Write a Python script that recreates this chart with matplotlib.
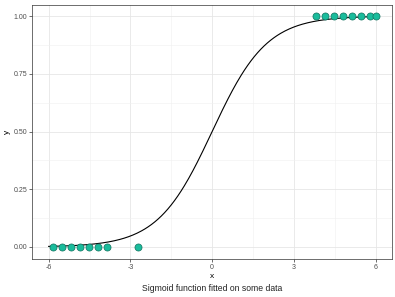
import numpy as np
import matplotlib
matplotlib.use("Agg")
import matplotlib.pyplot as plt

plt.rcParams['font.family'] = ['Liberation Sans', 'DejaVu Sans']

x_low = [-5.83, -5.5, -5.17, -4.84, -4.51, -4.18, -3.85, -2.71]
y_low = [0, 0, 0, 0, 0, 0, 0, 0]
x_high = [3.8, 4.13, 4.46, 4.79, 5.12, 5.45, 5.78, 6.0]
y_high = [1, 1, 1, 1, 1, 1, 1, 1]
x_ticks = [-6, -3, 0, 3, 6]
y_ticks = [0.0, 0.25, 0.5, 0.75, 1.0]
y_ticklabels = ["0.00", "0.25", "0.50", "0.75", "1.00"]
caption = "Sigmoid function fitted on some data"

fig = plt.figure(figsize=(3.95, 2.97), dpi=100)
ax = fig.add_axes([0.0818, 0.1296, 0.9106, 0.8552])

xs = np.linspace(-6, 6, 300)
ax.plot(xs, 1 / (1 + np.exp(-xs)), color='black', lw=0.8, zorder=2)
ax.scatter(x_low + x_high, y_low + y_high, s=26, facecolor='#1abc9c',
           edgecolor='#11705d', linewidth=0.5, zorder=3)

ax.set_xlim(-6.6, 6.6)
ax.set_ylim(-0.05, 1.05)
ax.set_xticks(x_ticks)
ax.set_xticklabels([str(t) for t in x_ticks])
ax.set_yticks(y_ticks)
ax.set_yticklabels(y_ticklabels)
ax.set_xticks([-4.5, -1.5, 1.5, 4.5], minor=True)
ax.set_yticks([0.125, 0.375, 0.625, 0.875], minor=True)
ax.grid(True, which='major', color='#e6e6e6', lw=0.6)
ax.grid(True, which='minor', color='#f0f0f0', lw=0.4)
ax.set_axisbelow(True)
ax.tick_params(which='minor', length=0)
ax.tick_params(which='major', length=2.2, width=0.5, color='#333333',
               labelsize=5, labelcolor='#4d4d4d', pad=1.5)
for s in ax.spines.values():
    s.set_color('#333333')
    s.set_linewidth(0.5)

ax.set_xlabel('x', fontsize=6, labelpad=2)
ax.set_ylabel('y', fontsize=6, labelpad=2)
fig.text(0.537, 0.03, caption, ha='center', va='center', fontsize=6.2,
         color='#222222')

fig.savefig('out.png', dpi=100)
